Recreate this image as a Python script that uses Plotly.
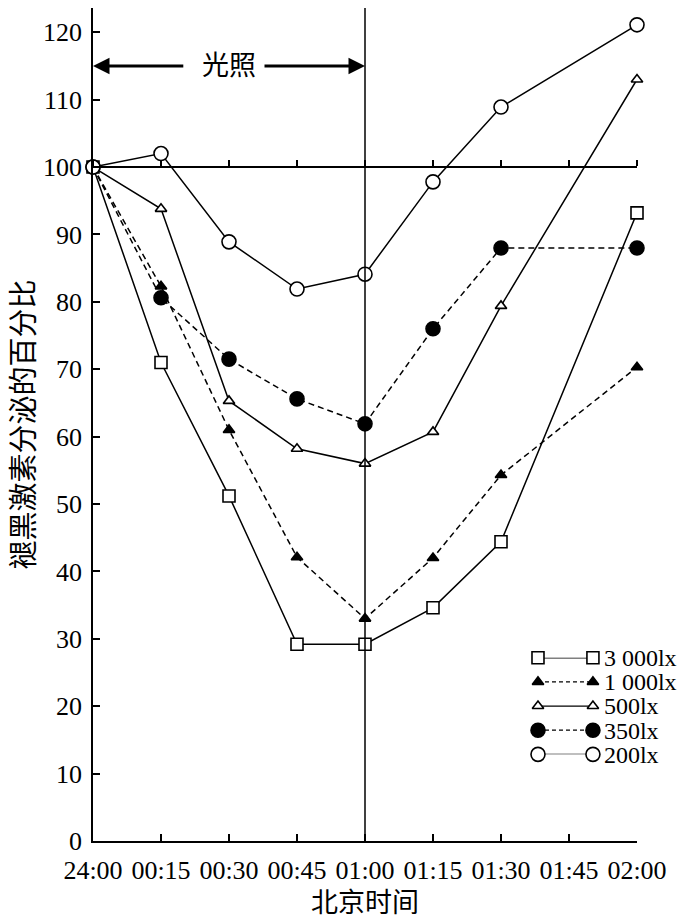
import plotly.graph_objects as go

# 北京时间 (x categories)
times = ["24:00", "00:15", "00:30", "00:45", "01:00", "01:15", "01:30", "01:45", "02:00"]
# measured points (no sample at 01:45)
sample_times = ["24:00", "00:15", "00:30", "00:45", "01:00", "01:15", "01:30", "02:00"]

lx3000 = [100, 71, 51.2, 29.2, 29.2, 34.6, 44.4, 93.2]
lx1000 = [100, 82.3, 61, 42.1, 33, 42, 54.3, 70.3]
lx500 = [100, 93.8, 65.3, 58.2, 56, 60.7, 79.4, 113]
lx350 = [100, 80.6, 71.5, 65.6, 61.9, 76, 88, 88]
lx200 = [100, 102, 88.9, 81.9, 84.1, 97.8, 108.9, 121.1]

names = ["3 000lx", "1 000lx", "500lx", "350lx", "200lx"]
values = [lx3000, lx1000, lx500, lx350, lx200]

baseline = 100
light_label = "光照"
light_start, light_end = "24:00", "01:00"

SERIF = "Liberation Serif, Noto Sans CJK SC, serif"
styles = [
    dict(symbol="square-open", size=12, dash="solid"),
    dict(symbol="triangle-up", size=10, dash="6px,4px"),
    dict(symbol="triangle-up-open", size=10, dash="solid"),
    dict(symbol="circle", size=14, dash="6px,4px"),
    dict(symbol="circle-open", size=14, dash="solid"),
]


def marker_style(st):
    # open symbols are drawn white-filled so lines don't show through
    sym = st["symbol"].replace("-open", "")
    fill = "white" if st["symbol"].endswith("-open") else "black"
    return dict(symbol=sym, size=st["size"], color=fill, line=dict(color="black", width=1.6))


fig = go.Figure()

for name, vals, st in zip(names, values, styles):
    fig.add_trace(go.Scatter(
        x=sample_times, y=vals, name=name, mode="lines+markers",
        line=dict(color="black", width=1.5, dash=st["dash"]),
        marker=marker_style(st), cliponaxis=False, showlegend=False,
    ))

# hand-made legend: line with a marker at each end, labels as tick text
for name, st in zip(names, styles):
    fig.add_trace(go.Scatter(
        x=[0, 1], y=[name, name], mode="lines+markers", xaxis="x3", yaxis="y3",
        line=dict(color="black", width=1.3, dash="solid" if st["dash"] == "solid" else "4px,3px"),
        marker=marker_style(st), cliponaxis=False, showlegend=False, hoverinfo="skip",
    ))

# empty trace so the 100% reference axis gets drawn
fig.add_trace(go.Scatter(x=times, y=[None] * len(times), xaxis="x2", showlegend=False))

ymax = 123.6

fig.add_shape(type="line", xref="x", yref="paper", x0=light_end, x1=light_end, y0=0, y1=1,
              line=dict(color="black", width=1.5))

# 光照 arrows
fig.add_annotation(x=light_start, y=115, ax=1.35, ay=115, axref="x", ayref="y", text="",
                   showarrow=True, arrowhead=2, arrowsize=1.1, arrowwidth=3, arrowcolor="black")
fig.add_annotation(x=light_end, y=115, ax=2.5, ay=115, axref="x", ayref="y", text="",
                   showarrow=True, arrowhead=2, arrowsize=1.1, arrowwidth=3, arrowcolor="black")
fig.add_annotation(x=times[2], y=115, text=light_label, showarrow=False,
                   font=dict(family=SERIF, size=27, color="black"))

axis_font = dict(family=SERIF, size=26, color="black")

fig.update_layout(
    template="none",
    width=692, height=910,
    margin=dict(l=85, r=63, t=0, b=77),
    paper_bgcolor="white", plot_bgcolor="white",
    font=dict(family=SERIF, color="black"),
    xaxis=dict(type="category", categoryarray=times, range=[0, 8], automargin=False,
               showline=True, linecolor="black", linewidth=1.5,
               ticks="inside", ticklen=7, tickcolor="black", tickwidth=1.5,
               showgrid=False, zeroline=False, tickfont=axis_font, ticklabelstandoff=5,
               title=dict(text="北京时间", font=dict(family=SERIF, size=27), standoff=10)),
    yaxis=dict(range=[0, ymax], tickvals=list(range(0, 121, 10)), automargin=False,
               showline=True, linecolor="black", linewidth=1.5,
               ticks="inside", ticklen=7, tickcolor="black", tickwidth=1.5,
               showgrid=False, zeroline=False, tickfont=axis_font, ticklabelstandoff=4,
               title=dict(text="褪黑激素分泌的百分比", font=dict(family=SERIF, size=29), standoff=5)),
    xaxis2=dict(type="category", categoryarray=times, range=[0, 8], overlaying="x",
                anchor="free", position=baseline / ymax, side="top", automargin=False,
                showline=True, linecolor="black", linewidth=1.5,
                ticks="outside", ticklen=6, tickcolor="black", tickwidth=1.5,
                showticklabels=False, showgrid=False, zeroline=False),
    xaxis3=dict(domain=[0.818, 0.919], range=[0, 1], anchor="y3", visible=False),
    yaxis3=dict(domain=[0.104, 0.22], type="category", categoryarray=names, range=[4, 0],
                tickmode="array", tickvals=names, automargin=False,
                anchor="x3", side="right", showline=False, showgrid=False, zeroline=False,
                ticks="", ticklabelstandoff=10,
                tickfont=dict(family=SERIF, size=24, color="black")),
)

fig.write_html("out.html")
